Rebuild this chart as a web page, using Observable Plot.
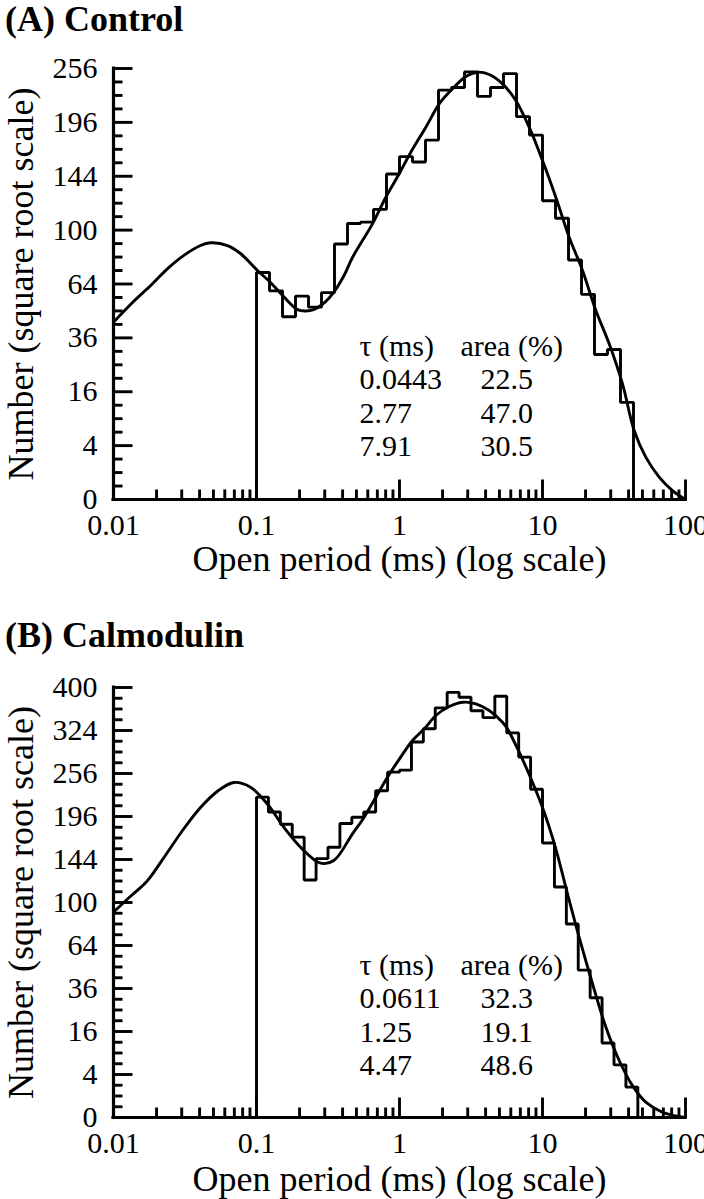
<!DOCTYPE html>
<html><head><meta charset="utf-8">
<script src="https://cdn.jsdelivr.net/npm/d3@7"></script>
<script src="https://cdn.jsdelivr.net/npm/@observablehq/plot@0.6"></script>
<style>
body{margin:0;background:#fff;}
#wrap{position:relative;width:704px;height:1199px;overflow:hidden;font-family:"Liberation Serif",serif;color:#000;}
#wrap svg, #wrap svg text{font-family:"Liberation Serif",serif !important;}
.title{position:absolute;left:5px;font-weight:bold;font-size:36px;line-height:36px;white-space:nowrap;}
.panel{position:absolute;left:0;}
</style></head><body><div id="wrap"></div>
<script>
// ---------- shared axis data ----------
const xMajor = [0.01, 0.1, 1, 10, 100];
const xMajorLabels = ["0.01", "0.1", "1", "10", "100"];
const xTitle = "Open period (ms) (log scale)";
const yTitle = "Number (square root scale)";
const annotHeader = ["τ (ms)", "area (%)"];

// ---------- panel A: Control ----------
const titleA = "(A) Control";
const yMajorA = [0, 4, 16, 36, 64, 100, 144, 196, 256];
const yMajorLabelsA = ["0", "4", "16", "36", "64", "100", "144", "196", "256"];
const binEdgesA = [0.1, 0.1233, 0.152, 0.1874, 0.231, 0.2848, 0.3511, 0.4329, 0.5337, 0.6579, 0.8111,
  1, 1.233, 1.52, 1.874, 2.31, 2.848, 3.511, 4.329, 5.337, 6.579, 8.111,
  10, 12.33, 15.2, 18.74, 23.1, 28.48, 35.11, 43.29];
const countsA = [71, 60, 46, 57, 51, 59, 90, 105, 106, 116, 146, 162, 157, 178, 231, 234, 252, 224, 234, 250,
  202, 183, 123, 109, 79, 58, 29, 31, 13];
const fitTA = [0.01, 0.0138, 0.0182, 0.0239, 0.0309, 0.0406, 0.0477, 0.0627, 0.0773, 0.1016, 0.1253, 0.1546,
  0.1936, 0.2203, 0.2506, 0.3041, 0.3455, 0.4058, 0.469, 0.647, 0.802, 0.995, 1.2, 1.528, 1.896, 2.349,
  2.911, 3.511, 4.238, 5.25, 6.506, 8.07, 10.0, 12.39, 15.37, 19.05, 23.61, 29.26, 36.26, 43.75, 52.75,
  65.45, 81.1, 100];
const fitNA = [43.3, 54.0, 63.1, 73.5, 82.0, 88.9, 90.8, 88.9, 83.4, 72.3, 64.9, 56.8,
  49.7, 49.0, 49.7, 54.0, 59.0, 68.5, 80.7, 104.7, 125.9, 146.2, 166.2, 191, 215.7, 232.4,
  246.5, 251.6, 248.9, 238.1, 219.4, 191, 158.3, 125.9, 94.8, 72.3, 49.2, 33.4, 18.4, 6.56, 2.47,
  0.69, 0.11, 0];
const tauA = ["0.0443", "2.77", "7.91"];
const areaA = ["22.5", "47.0", "30.5"];

// ---------- panel B: Calmodulin ----------
const titleB = "(B) Calmodulin";
const yMajorB = [0, 4, 16, 36, 64, 100, 144, 196, 256, 324, 400];
const yMajorLabelsB = ["0", "4", "16", "36", "64", "100", "144", "196", "256", "324", "400"];
const binEdgesB = [0.1, 0.1212, 0.1468, 0.1778, 0.2154, 0.261, 0.3162, 0.3831, 0.4642, 0.5623, 0.6813, 0.8254,
  1, 1.212, 1.468, 1.778, 2.154, 2.61, 3.162, 3.831, 4.642, 5.623, 6.813, 8.254,
  10, 12.12, 14.68, 17.78, 21.54, 26.1, 31.62, 38.31, 46.42];
const countsB = [222, 202, 186, 170, 122, 145, 158, 187, 195, 202, 231, 258, 261, 305, 327, 363, 391, 382,
  358, 346, 384, 320, 281, 233, 163, 115, 81, 47, 31, 12, 6, 2];
const fitTB = [0.01, 0.0131, 0.0163, 0.0182, 0.0238, 0.0311, 0.0406, 0.0531, 0.0694, 0.0908, 0.1188, 0.1553,
  0.2033, 0.2806, 0.3475, 0.469, 0.566, 0.683, 0.824, 1.0, 1.233, 1.49, 1.795, 2.227, 2.759, 3.418, 4.238,
  5.25, 5.69, 6.87, 8.51, 10.28, 12.39, 14.96, 18.03, 22.37, 27.76, 34.38, 42.56, 52.75, 69.0, 100];
const fitNB = [91.2, 105.7, 117.4, 125.6, 151.9, 180.7, 207.9, 229.9, 242.8, 236, 212.9, 182.3,
  158.1, 139.9, 142.9, 174.1, 195.1, 221.9, 250.5, 278.3, 307.5, 326.8, 349.6, 365.4, 373.1, 370.2, 358.3,
  338.1, 326.8, 288.7, 243.2, 201.6, 156.2, 108.2, 70.3, 38.7, 17.6, 7.03, 2.2, 0.51, 0.06, 0];
const tauB = ["0.0611", "1.25", "4.47"];
const areaB = ["32.3", "19.1", "48.6"];

// ---------- drawing ----------
const FONT = '"Liberation Serif", serif';
const xMinor = [2, 3, 4, 5, 6, 7, 8, 9].flatMap(m => [0.01, 0.1, 1, 10].map(d => +(m * d).toPrecision(3)));
const tickShape = {draw(ctx, l) { ctx.moveTo(0, 0); ctx.lineTo(0, -l); }};
const SW = 2.9;

function panel(cfg) {
  const {edges, counts, fitT, fitN, yMax, yMajor, yLabels, tau, area, height, marginTop, marginBottom, annotY, titleDy} = cfg;
  const last = edges.length - 1;
  const steps = [{x: edges[0], y: 0}]
    .concat(counts.map((c, i) => ({x: edges[i], y: c})))
    .concat([{x: edges[last], y: counts[counts.length - 1]}, {x: edges[last], y: 0}]);
  const fit = fitT.map((t, i) => ({x: t, y: fitN[i]}));
  const sMax = Math.sqrt(yMax);
  const yMinor = d3.range(0.5, sMax, 0.5).filter(s => s % 2 !== 0).map(s => s * s);
  return Plot.plot({
    width: 704, height, marginLeft: 113, marginRight: 19, marginTop, marginBottom,
    style: {fontFamily: FONT, fontSize: "30px", color: "#000", background: "#fff", overflow: "visible"},
    x: {type: "log", domain: [0.01, 100]},
    y: {type: "sqrt", domain: [0, yMax]},
    marks: [
      Plot.line(steps, {x: "x", y: "y", curve: "step-after", stroke: "#000", strokeWidth: SW, strokeLinejoin: "miter"}),
      Plot.line(fit, {x: "x", y: "y", curve: "catmull-rom", stroke: "#000", strokeWidth: SW}),
      Plot.ruleY([0], {stroke: "#000", strokeWidth: 3.2, strokeLinecap: "square"}),
      Plot.ruleX([0.01], {stroke: "#000", strokeWidth: 3.2, strokeLinecap: "square"}),
      Plot.vector(xMinor, {x: d => d, frameAnchor: "bottom", length: 10, rotate: 0, anchor: "start", shape: tickShape, stroke: "#000", strokeWidth: SW, strokeLinecap: "butt"}),
      Plot.vector(xMajor, {x: d => d, frameAnchor: "bottom", length: 20, rotate: 0, anchor: "start", shape: tickShape, stroke: "#000", strokeWidth: SW, strokeLinecap: "butt"}),
      Plot.vector(yMinor, {y: d => d, frameAnchor: "left", length: 9, rotate: 90, anchor: "start", shape: tickShape, stroke: "#000", strokeWidth: SW, strokeLinecap: "butt"}),
      Plot.vector(yMajor, {y: d => d, frameAnchor: "left", length: 19, rotate: 90, anchor: "start", shape: tickShape, stroke: "#000", strokeWidth: SW, strokeLinecap: "butt"}),
      Plot.axisX({ticks: xMajor, tickSize: 0, tickPadding: 14, tickFormat: d => xMajorLabels[xMajor.indexOf(d)], label: null, fontSize: 30, fontFamily: FONT}),
      Plot.axisY({ticks: yMajor, tickSize: 0, tickPadding: 16, tickFormat: d => yLabels[yMajor.indexOf(d)], label: null, fontSize: 30, fontFamily: FONT}),
      Plot.text([xTitle], {text: d => d, frameAnchor: "bottom", dy: titleDy, lineAnchor: "bottom", textAnchor: "middle", fontSize: 36, fontFamily: FONT}),
      Plot.text([yTitle], {text: d => d, frameAnchor: "left", rotate: -90, dx: -81, lineAnchor: "bottom", textAnchor: "middle", fontSize: 36, fontFamily: FONT}),
      Plot.text([[annotHeader[0], ...tau].join("\n")], {text: d => d, x: () => 0.525, y: () => annotY, textAnchor: "start", lineAnchor: "bottom", lineHeight: 1.12, fontSize: 30, fontFamily: FONT}),
      Plot.text([annotHeader[1] + "\n\n\n"], {text: d => d, x: () => 2.67, y: () => annotY, textAnchor: "start", lineAnchor: "bottom", lineHeight: 1.12, fontSize: 30, fontFamily: FONT}),
      Plot.text([area.join("\n")], {text: d => d, x: () => 3.68, y: () => annotY, textAnchor: "start", lineAnchor: "bottom", lineHeight: 1.12, fontSize: 30, fontFamily: FONT})
    ]
  });
}

const wrap = document.getElementById("wrap");
function addTitle(text, top) {
  const d = document.createElement("div");
  d.className = "title"; d.style.top = top + "px"; d.textContent = text;
  wrap.appendChild(d);
}
function addPanel(node, top) {
  node.classList.add("panel");
  node.style.top = top + "px";
  wrap.appendChild(node);
}
addTitle(titleA, 1);
addPanel(panel({edges: binEdgesA, counts: countsA, fitT: fitTA, fitN: fitNA, yMax: 256, yMajor: yMajorA, yLabels: yMajorLabelsA,
  tau: tauA, area: areaA, height: 550, marginTop: 28, marginBottom: 91, annotY: 2.55, titleDy: 71}), 40);
addTitle(titleB, 617);
addPanel(panel({edges: binEdgesB, counts: countsB, fitT: fitTB, fitN: fitNB, yMax: 400, yMajor: yMajorB, yLabels: yMajorLabelsB,
  tau: tauB, area: areaB, height: 544, marginTop: 32, marginBottom: 82, annotY: 3.82, titleDy: 73}), 655);
</script></body></html>
